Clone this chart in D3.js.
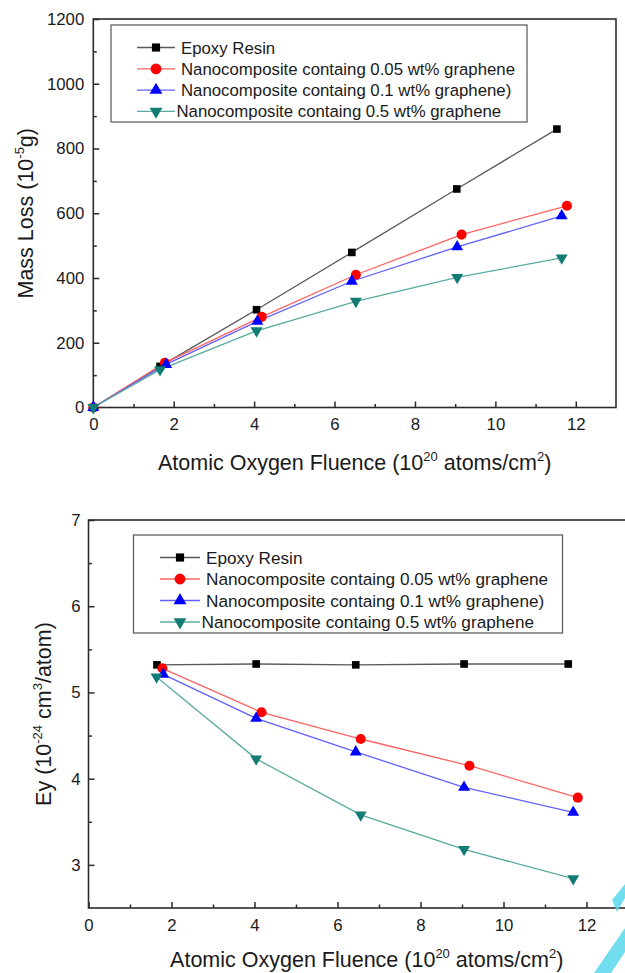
<!DOCTYPE html>
<html>
<head>
<meta charset="utf-8">
<script src="https://cdn.jsdelivr.net/npm/d3@7"></script>
<style>
    body { margin: 0; background: #fff; }
    svg { display: block; font-family: "Liberation Sans", Arial, sans-serif; }
</style>
</head>
<body>
<svg id="chart" width="625" height="973"></svg>
<script>

// series names, same in both panels
var seriesNames = [
    "Epoxy Resin",
    "Nanocomposite containg 0.05 wt% graphene",
    "Nanocomposite containg 0.1 wt% graphene)",
    "Nanocomposite containg 0.5 wt% graphene"
];

// top panel: mass loss vs fluence
var massFluence = [
    [0, 1.66, 4.06, 6.43, 9.04, 11.53],
    [0, 1.78, 4.19, 6.53, 9.16, 11.78],
    [0, 1.81, 4.08, 6.43, 9.05, 11.65],
    [0, 1.66, 4.06, 6.53, 9.05, 11.65]
];
var massLoss = [
    [0, 127, 302, 479, 675, 860],
    [0, 138, 280, 410, 534, 623],
    [0, 133, 266, 390, 496, 592],
    [0, 117, 237, 328, 402, 462]
];

// bottom panel: erosion yield vs fluence
var eyFluence = [
    [1.65, 4.04, 6.44, 9.05, 11.56],
    [1.78, 4.17, 6.56, 9.18, 11.79],
    [1.80, 4.04, 6.44, 9.05, 11.68],
    [1.64, 4.04, 6.56, 9.05, 11.68]
];
var eyValues = [
    [5.32, 5.33, 5.32, 5.33, 5.33],
    [5.28, 4.77, 4.46, 4.15, 3.78],
    [5.21, 4.70, 4.31, 3.90, 3.61],
    [5.18, 4.23, 3.58, 3.18, 2.84]
];

var fluenceTicks = [0, 2, 4, 6, 8, 10, 12];
var fluenceMinor = [1, 3, 5, 7, 9, 11];
var massTicks = [0, 200, 400, 600, 800, 1000, 1200];
var massMinor = [100, 300, 500, 700, 900, 1100];
var eyTicks = [3, 4, 5, 6, 7];
var eyMinor = [3.5, 4.5, 5.5, 6.5];

// styles
var lineColors = ["#5a5a5a", "#ff6363", "#6161ff", "#5aab9f"];
var markColors = ["#000000", "#ff0000", "#0000ff", "#127c74"];
var markTypes = [d3.symbolSquare, d3.symbolCircle, d3.symbolTriangle, d3.symbolTriangle];
var markSizes = [58, 80, 62, 62];


function Panel(opts){
    var self = this;
    self.o = opts;
    self.svg = d3.select("#chart");
    self.g = self.svg.append("g");

    self.x = d3.scaleLinear().domain(opts.xDomain).range(opts.xRange);
    self.y = d3.scaleLinear().domain(opts.yDomain).range(opts.yRange);

    self.init();
}


Panel.prototype.init = function(){
    var self = this;
    var o = self.o;
    var x0 = o.xRange[0], x1 = o.xRange[1];
    var y0 = o.yRange[0], y1 = o.yRange[1];
    var plain = function(d){ return "" + d; };

    // x ticks, pointing inside
    self.g.append("g")
        .attr("transform", "translate(0," + y0 + ")")
        .call(d3.axisBottom(self.x).tickValues(o.xTicks).tickFormat(plain).tickSize(-6).tickSizeOuter(0).tickPadding(11))
        .call(self.styleAxis);
    self.g.append("g")
        .attr("transform", "translate(0," + y0 + ")")
        .call(d3.axisBottom(self.x).tickValues(o.xMinor).tickSize(-3.5).tickSizeOuter(0).tickFormat(""))
        .call(self.styleAxis);

    // y ticks
    self.g.append("g")
        .attr("transform", "translate(" + x0 + ",0)")
        .call(d3.axisLeft(self.y).tickValues(o.yTicks).tickFormat(plain).tickSize(-6).tickSizeOuter(0).tickPadding(o.yPad))
        .call(self.styleAxis);
    self.g.append("g")
        .attr("transform", "translate(" + x0 + ",0)")
        .call(d3.axisLeft(self.y).tickValues(o.yMinor).tickSize(-3.5).tickSizeOuter(0).tickFormat(""))
        .call(self.styleAxis);

    // frame
    self.g.append("rect")
        .attr("x", x0)
        .attr("y", y1)
        .attr("width", x1 - x0)
        .attr("height", y0 - y1)
        .attr("fill", "none")
        .attr("stroke", "#2b2b2b")
        .attr("stroke-width", 1.6);

    // series
    var line = d3.line()
        .x(function(d){ return self.x(d[0]); })
        .y(function(d){ return self.y(d[1]); });

    for (var j = 0; j < seriesNames.length; j++){
        var pts = d3.zip(o.xs[j], o.ys[j]);
        self.g.append("path")
            .datum(pts)
            .attr("fill", "none")
            .attr("stroke", lineColors[j])
            .attr("stroke-width", 1.3)
            .attr("d", line);
    }
    for (var j = 0; j < seriesNames.length; j++){
        var pts = d3.zip(o.xs[j], o.ys[j]);
        self.g.selectAll(".m" + j).data(pts).enter()
            .append("path")
            .attr("class", "m" + j)
            .attr("fill", markColors[j])
            .attr("d", d3.symbol().type(markTypes[j]).size(markSizes[j]))
            .attr("transform", function(d){
                var t = "translate(" + self.x(d[0]) + "," + self.y(d[1]) + ")";
                return j == 3 ? t + " rotate(180)" : t;
            });
    }

    // legend
    var L = o.legend;
    self.g.append("rect")
        .attr("x", L.x)
        .attr("y", L.y)
        .attr("width", L.w)
        .attr("height", L.h)
        .attr("fill", "#fff")
        .attr("stroke", "#555")
        .attr("stroke-width", 1.2);

    for (var j = 0; j < seriesNames.length; j++){
        var ry = L.y + L.first + j * L.step;
        self.g.append("line")
            .attr("x1", L.lx0).attr("x2", L.lx1)
            .attr("y1", ry).attr("y2", ry)
            .attr("stroke", lineColors[j])
            .attr("stroke-width", 1.3);
        self.g.append("path")
            .attr("fill", markColors[j])
            .attr("d", d3.symbol().type(markTypes[j]).size(markSizes[j] * 1.15))
            .attr("transform", "translate(" + ((L.lx0 + L.lx1) / 2) + "," + ry + ")" + (j == 3 ? " rotate(180)" : ""));
        self.g.append("text")
            .attr("x", L.tx - (j == 3 ? 4.5 : 0))
            .attr("y", ry)
            .attr("dy", "0.36em")
            .attr("font-size", L.fs)
            .attr("fill", "#1a1a1a")
            .text(seriesNames[j]);
    }

    // x title
    var xt = self.g.append("text")
        .attr("x", (x0 + Math.min(x1, 625)) / 2 + o.xTitleShift)
        .attr("y", o.xTitleY)
        .attr("text-anchor", "middle")
        .attr("font-size", o.titleFs)
        .attr("fill", "#1a1a1a");
    xt.append("tspan").text("Atomic Oxygen Fluence (10");
    xt.append("tspan").attr("font-size", 13).attr("dy", -9).text("20");
    xt.append("tspan").attr("dy", 9).text(" atoms/cm");
    xt.append("tspan").attr("font-size", 13).attr("dy", -9).text("2");
    xt.append("tspan").attr("dy", 9).text(")");

    // y title
    var yt = self.g.append("text")
        .attr("transform", "translate(" + o.yTitleX + "," + ((y0 + y1) / 2) + ") rotate(-90)")
        .attr("text-anchor", "middle")
        .attr("font-size", o.titleFs)
        .attr("fill", "#1a1a1a");
    o.yTitle(yt);
}


Panel.prototype.styleAxis = function(sel){
    sel.select(".domain").remove();
    sel.selectAll("line").attr("stroke", "#2b2b2b").attr("stroke-width", 1.5);
    sel.selectAll("text")
        .attr("font-family", "'Liberation Sans', Arial, sans-serif")
        .attr("font-size", 16.8)
        .attr("fill", "#1a1a1a");
}


var top = new Panel({
    xDomain: [0, 13], xRange: [93.3, 616],
    yDomain: [0, 1200], yRange: [407.5, 19],
    xTicks: fluenceTicks, xMinor: fluenceMinor,
    yTicks: massTicks, yMinor: massMinor, yPad: 9,
    xs: massFluence, ys: massLoss,
    legend: {x: 111, y: 25, w: 416, h: 97, first: 22.5, step: 21.3,
             lx0: 137, lx1: 175, tx: 181, fs: 16.8},
    titleFs: 21.5,
    xTitleY: 470, xTitleShift: 0, yTitleX: 33,
    yTitle: function(t){
        t.append("tspan").text("Mass Loss (10");
        t.append("tspan").attr("font-size", 13).attr("dy", -9).text("-5");
        t.append("tspan").attr("dy", 9).text("g)");
    }
});

var bottom = new Panel({
    xDomain: [0, 13], xRange: [88.5, 628],
    yDomain: [2.5, 7], yRange: [908, 520],
    xTicks: fluenceTicks, xMinor: fluenceMinor,
    yTicks: eyTicks, yMinor: eyMinor, yPad: 8,
    xs: eyFluence, ys: eyValues,
    legend: {x: 133.5, y: 535, w: 429, h: 98, first: 22.5, step: 21.5,
             lx0: 160, lx1: 200, tx: 206, fs: 17.2},
    titleFs: 21.5,
    xTitleY: 967, xTitleShift: 10, yTitleX: 51,
    yTitle: function(t){
        t.append("tspan").text("Ey (10");
        t.append("tspan").attr("font-size", 13).attr("dy", -9).text("-24");
        t.append("tspan").attr("dy", 9).text(" cm");
        t.append("tspan").attr("font-size", 13).attr("dy", -9).text("3");
        t.append("tspan").attr("dy", 9).text("/atom)");
    }
});

// cyan watermark fragments at the bottom right corner
var wm = d3.select("#chart").append("g").attr("fill", "#5ad8ec").attr("opacity", 0.85);
wm.append("path").attr("d", "M612,900 L625,884 L625,898 L617,912 Z");
wm.append("path").attr("d", "M594,973 L625,928 L625,952 L611,973 Z");

</script>
</body>
</html>
